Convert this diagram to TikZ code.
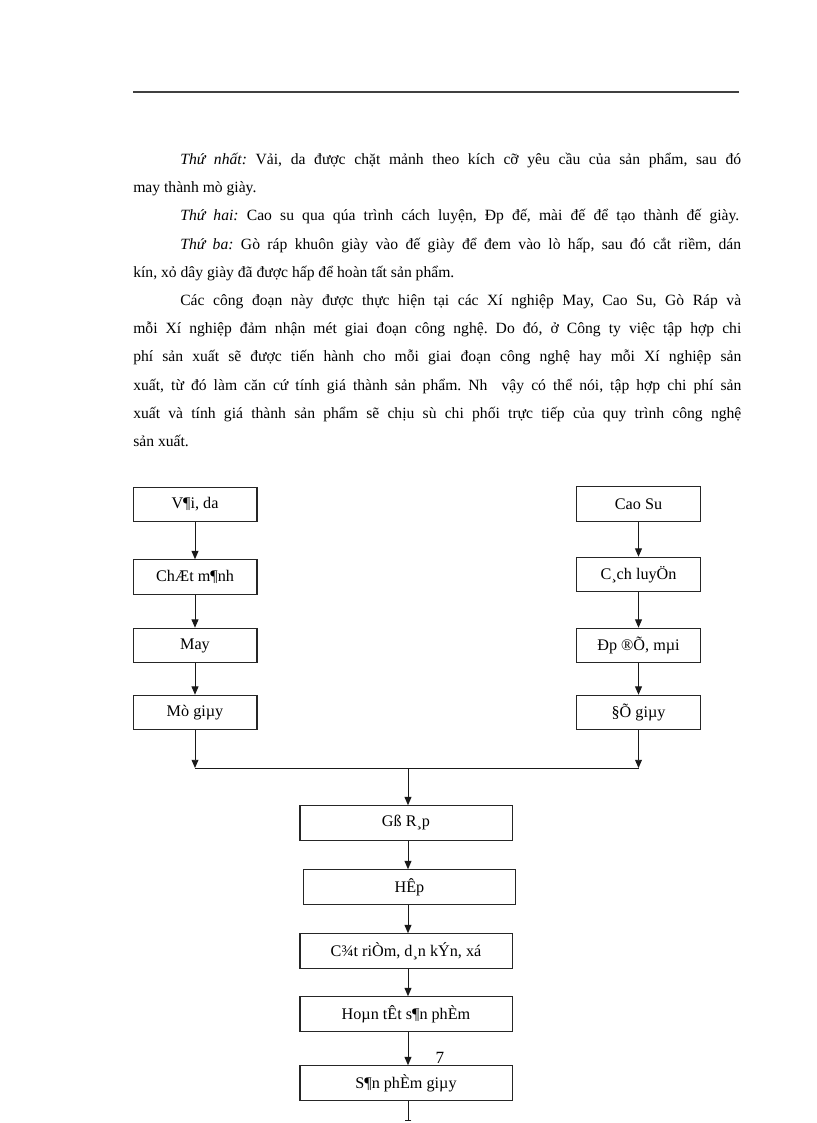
\documentclass[tikz,border=0pt]{standalone}
\usepackage{fontspec}
\setmainfont{Liberation Serif}
\usetikzlibrary{arrows.meta}
\newcommand{\bodyfont}{\fontsize{11.4}{20.56}\selectfont}
\newcommand{\jline}[2]{\leavevmode\hbox to #1{#2}}
\tikzset{
  px/.style={x=0.7292pt,y=-0.7292pt},
  stepbox/.style={draw=black!85, line width=0.75pt, inner sep=0pt, minimum height=25.2pt, font=\fontsize{11.8}{14}\selectfont},
  lbox/.style={stepbox, minimum width=90.4pt},
  mbox/.style={stepbox, minimum width=154.6pt},
  arr/.style={draw=black!90, line width=0.7pt, -{Triangle[length=6pt,width=5pt]}},
  plain/.style={draw=black!90, line width=0.7pt}
}
\begin{document}
\begin{tikzpicture}[px]
\useasboundingbox (0,0) rectangle (816,1123);
\fill[white] (0,0) rectangle (816,1123);
% header rule
\coordinate (hl) at (133,92);
\coordinate (hr) at (739,92);
\draw[black!75, line width=1.1pt] (hl) -- (hr);
% paragraph text
\node[anchor=north west, inner sep=0pt, text width=443.4pt, align=left, font=\bodyfont] (para) at (133,153) {%
\spaceskip=0pt\xspaceskip=0pt\frenchspacing
\hspace*{34.3pt}\jline{409pt}{\textit{Thứ nhất:} Vải, da được chặt mảnh theo kích cỡ yêu cầu của sản phẩm, sau đó}\\
may thành mò giày.\\
\hspace*{34.3pt}\jline{407.6pt}{\textit{Thứ hai:} Cao su qua qúa trình cách luyện, Đp đế, mài đế để tạo thành đế giày.}\\
\hspace*{34.3pt}\jline{409pt}{\textit{Thứ ba:} Gò ráp khuôn giày vào đế giày để đem vào lò hấp, sau đó cắt riềm, dán}\\
kín, xỏ dây giày đã được hấp để hoàn tất sản phẩm.\\
\hspace*{34.3pt}\jline{409pt}{Các công đoạn này được thực hiện tại các Xí nghiệp May, Cao Su, Gò Ráp và}\\
\jline{443.4pt}{mỗi Xí nghiệp đảm nhận mét giai đoạn công nghệ. Do đó, ở Công ty việc tập hợp chi}\\
\jline{443.4pt}{phí sản xuất sẽ được tiến hành cho mỗi giai đoạn công nghệ hay mỗi Xí nghiệp sản}\\
\jline{443.4pt}{xuất, từ đó làm căn cứ tính giá thành sản phẩm. Nh\ \ vậy có thể nói, tập hợp chi phí sản}\\
\jline{443.4pt}{xuất và tính giá thành sản phẩm sẽ chịu sù chi phối trực tiếp của quy trình công nghệ}\\
sản xuất.};
% left column
\node[lbox] (a1) at (195,504.5) {V¶i, da};
\node[lbox] (a2) at (195,577) {ChÆt m¶nh};
\node[lbox] (a3) at (195,645.5) {May};
\node[lbox] (a4) at (195,712.5) {Mò giµy};
% right column
\node[lbox] (b1) at (638.5,504) {Cao Su};
\node[lbox] (b2) at (638.5,574.5) {C¸ch luyÖn};
\node[lbox] (b3) at (638.5,645.5) {Đp ®Õ, mµi};
\node[lbox] (b4) at (638.5,712.5) {§Õ giµy};
% middle column
\node[mbox] (c1) at (406,823) {Gß R¸p};
\node[mbox] (c2) at (409.5,887) {HÊp};
\node[mbox] (c3) at (406,951) {C¾t riÒm, d¸n kÝn, xá};
\node[mbox] (c4) at (406,1014) {Hoµn tÊt s¶n phÈm};
\node[mbox] (c5) at (406,1083) {S¶n phÈm giµy};
% page number
\node[inner sep=0pt, font=\fontsize{12.5}{14}\selectfont] (pg) at (440,1058) {7};
% merge line
\coordinate (ml) at (192,768);
\coordinate (mr) at (637,768);
\coordinate (mm) at (408,768);
\coordinate (endc) at (408,1121);
% arrows left
\draw[arr] (a1.south) -- (a2.north);
\draw[arr] (a2.south) -- (a3.north);
\draw[arr] (a3.south) -- (a4.north);
\draw[arr] (a4.south) -- (a4.south |- ml);
% arrows right
\draw[arr] (b1.south) -- (b2.north);
\draw[arr] (b2.south) -- (b3.north);
\draw[arr] (b3.south) -- (b4.north);
\draw[arr] (b4.south) -- (b4.south |- mr);
% merge
\draw[plain] (a4.south |- ml) -- (b4.south |- mr);
\draw[arr] (mm) -- (mm |- c1.north);
% middle arrows
\draw[arr] (mm |- c1.south) -- (mm |- c2.north);
\draw[arr] (mm |- c2.south) -- (mm |- c3.north);
\draw[arr] (mm |- c3.south) -- (mm |- c4.north);
\draw[arr] (mm |- c4.south) -- (mm |- c5.north);
\draw[draw=black!90, line width=0.7pt, -{Bar[width=5pt]}] (mm |- c5.south) -- (endc);
\end{tikzpicture}
\end{document}
